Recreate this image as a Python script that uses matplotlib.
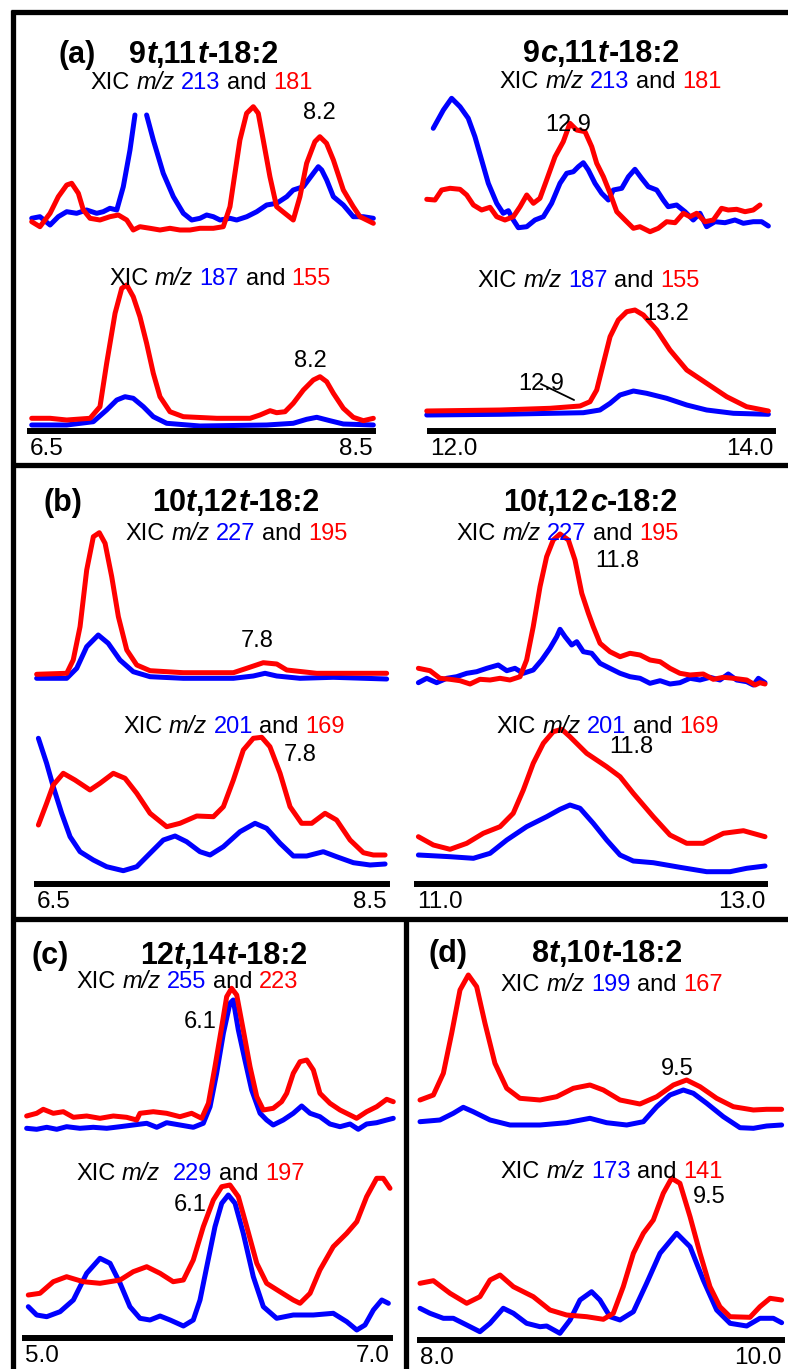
import numpy as np
import matplotlib.pyplot as plt

W, H = 788, 1369
BLUE = '#0000ff'
RED = '#ff0000'
plt.rcParams['font.family'] = ['Liberation Sans', 'DejaVu Sans']

# ---- (a) 9t,11t-18:2 : XIC m/z 213 (blue) / 181 (red), then 187 / 155
a1_top_blue_t = [6.51, 6.558, 6.617, 6.665, 6.714, 6.772, 6.83, 6.889, 6.927, 6.966, 7.006, 7.044, 7.083, 7.112, np.nan,
                 7.18, 7.219, 7.277, 7.336, 7.394, 7.443, 7.491, 7.53, 7.569, 7.608, 7.666, 7.705, 7.764, 7.822, 7.88,
                 7.938, 7.997, 8.035, 8.094, 8.152, 8.181, 8.201, 8.23, 8.269, 8.327, 8.385, 8.444, 8.502]
a1_top_blue_i = [21.7, 23.3, 15, 23.3, 28.3, 26.7, 30, 26.7, 28.3, 31.7, 30, 53.3, 90, 125, np.nan,
                 125, 100, 66.7, 43.3, 26.7, 20, 21.7, 25, 23.3, 20, 21.7, 20, 23.3, 28.3, 35,
                 36.7, 43.3, 50, 53.3, 66.7, 73.3, 70, 60, 43.3, 35, 23.3, 23.3, 21.7]
a1_top_red_t = [6.51, 6.558, 6.617, 6.665, 6.714, 6.743, 6.782, 6.811, 6.85, 6.908, 6.966, 7.015, 7.064, 7.102, 7.141,
                7.2, 7.258, 7.316, 7.374, 7.433, 7.491, 7.569, 7.627, 7.666, 7.695, 7.724, 7.763, 7.802, 7.831, 7.86,
                7.899, 7.938, 7.986, 8.035, 8.074, 8.113, 8.161, 8.19, 8.229, 8.269, 8.327, 8.385, 8.424, 8.463, 8.502]
a1_top_red_i = [18.3, 13.3, 26.7, 43.3, 55, 56.7, 46.7, 30, 21.7, 20, 23.3, 25, 20, 10, 13.3,
                11.7, 10, 11.7, 10, 10, 11.7, 11.7, 13.3, 33.3, 66.7, 100, 126.7, 133.3, 126.7, 100,
                63.3, 33.3, 26.7, 20, 43.3, 76.7, 98.3, 103.3, 96.7, 80, 50, 33.3, 23.3, 20, 16.7]
a1_bot_blue_t = [6.51, 6.714, 6.869, 6.947, 7.006, 7.054, 7.102, 7.161, 7.219, 7.297, 7.491, 7.88, 8.035, 8.113,
                 8.172, 8.249, 8.327, 8.502]
a1_bot_blue_i = [6, 6, 9.3, 21, 31, 34.3, 32.7, 24.3, 14.3, 7.7, 5, 6, 7.7, 11.7, 13.7, 10.3, 7, 6]
a1_bot_red_t = [6.51, 6.617, 6.714, 6.85, 6.908, 6.947, 6.996, 7.035, 7.064, 7.102, 7.141, 7.18, 7.219, 7.258,
                7.316, 7.394, 7.589, 7.783, 7.841, 7.9, 7.938, 7.987, 8.035, 8.094, 8.152, 8.191, 8.23, 8.269,
                8.327, 8.385, 8.444, 8.502]
a1_bot_red_i = [12.7, 12.7, 11, 12.7, 24.3, 67.7, 117.7, 142.7, 146, 134.3, 114.3, 87.7, 57.7, 34.3,
                19.3, 14.3, 12.7, 12.7, 16, 20.3, 18.3, 19.3, 27.7, 41, 51, 54.3, 49.3, 37.7,
                22.7, 13.7, 10.3, 12.7]

# ---- 9c,11t-18:2
a2_top_blue_t = [12.019, 12.078, 12.126, 12.175, 12.223, 12.262, 12.301, 12.34, 12.389, 12.427, 12.457, 12.486,
                 12.515, 12.564, 12.612, 12.661, 12.709, 12.758, 12.797, 12.836, 12.865, 12.894, 12.923, 12.962,
                 13.001, 13.04, 13.069, 13.118, 13.157, 13.195, 13.234, 13.273, 13.322, 13.36, 13.389, 13.438,
                 13.487, 13.535, 13.574, 13.613, 13.662, 13.72, 13.778, 13.827, 13.885, 13.934, 13.973]
a2_top_blue_i = [111.7, 130, 141.7, 133.3, 121.7, 103.3, 80, 56.7, 36.7, 26.7, 29.3, 20,
                 12.3, 13.3, 20, 23.3, 36.7, 56.7, 66.7, 68.3, 73.3, 77.3, 70, 56.7,
                 46.7, 40, 50, 51.7, 63.3, 70.7, 61.7, 53.3, 50, 40, 33.3, 35,
                 28.3, 20, 26.7, 13.3, 18.3, 17.3, 20, 16.7, 18.3, 18.3, 14]
a2_top_red_t = [11.981, 12.029, 12.068, 12.117, 12.175, 12.214, 12.253, 12.301, 12.35, 12.389, 12.437, 12.486,
                12.525, 12.564, 12.603, 12.641, 12.68, 12.729, 12.777, 12.816, 12.855, 12.904, 12.943, 12.972,
                13.011, 13.05, 13.089, 13.137, 13.186, 13.224, 13.283, 13.331, 13.38, 13.429, 13.477, 13.516,
                13.555, 13.603, 13.652, 13.7, 13.739, 13.788, 13.837, 13.885, 13.924]
a2_top_red_i = [40.7, 40, 50, 51.7, 50.7, 45, 35, 30, 32.7, 23.3, 20, 23.3,
                33.3, 45, 36.7, 41.7, 60, 83.3, 98.3, 116.7, 110, 108.3, 93.3, 76.7,
                63.3, 46.7, 28.3, 20, 11.7, 13.3, 8.3, 11.7, 18.3, 17.3, 26.7, 23.3,
                26.7, 18.3, 20, 31.7, 30, 30.7, 28.3, 30, 35]
a2_bot_blue_t = [11.981, 12.408, 12.894, 12.991, 13.05, 13.108, 13.186, 13.263, 13.38, 13.497, 13.613, 13.769, 13.973]
a2_bot_blue_i = [16, 16.7, 18.3, 21, 27.7, 36, 40, 37.7, 32.7, 26, 21, 17.7, 16.7]
a2_bot_red_t = [11.981, 12.408, 12.7, 12.875, 12.933, 12.972, 13.011, 13.05, 13.098, 13.147, 13.195, 13.244,
                13.322, 13.399, 13.497, 13.613, 13.73, 13.846, 13.973]
a2_bot_red_i = [20, 21, 22.7, 25, 29.3, 41, 67.7, 94.3, 111, 119.3, 121, 116,
                101, 81, 61, 47.7, 34.3, 24.3, 20]

# ---- (b) 10t,12t-18:2 : XIC m/z 227 / 195, then 201 / 169
b1_top_blue_t = [6.498, 6.67, 6.727, 6.784, 6.85, 6.907, 6.974, 7.05, 7.146, 7.336, 7.622, 7.736, 7.803, 7.87,
                 8.003, 8.193, 8.498]
b1_top_blue_i = [21.7, 21.7, 31.7, 53.3, 65, 56.7, 40, 28.3, 23.3, 21.7, 21.7, 24, 26.7, 24, 21.7, 22.7, 21]
b1_top_red_t = [6.498, 6.67, 6.707, 6.746, 6.784, 6.822, 6.856, 6.889, 6.927, 6.965, 7.013, 7.07, 7.146, 7.336,
                7.622, 7.698, 7.793, 7.87, 7.927, 8.098, 8.289, 8.498]
b1_top_red_i = [25.7, 26.7, 40, 73.3, 130, 163.3, 167.3, 156.7, 123.3, 83.3, 50, 35, 29.3, 27.3,
                27.3, 31.7, 37.3, 36, 30, 26.7, 26.7, 26.7]
b1_bot_blue_t = [6.508, 6.555, 6.593, 6.641, 6.689, 6.746, 6.822, 6.898, 6.993, 7.07, 7.146, 7.222, 7.289, 7.355,
                 7.431, 7.489, 7.565, 7.66, 7.746, 7.812, 7.889, 7.965, 8.041, 8.136, 8.212, 8.308, 8.403, 8.489]
b1_bot_blue_i = [145.7, 120.7, 97.3, 70.7, 47.3, 32.3, 24, 17.3, 13.3, 17.3, 30.7, 44, 48, 42.3,
                 32.3, 29, 37.3, 52.3, 60.7, 55.7, 40.7, 28, 28, 32.3, 27.3, 21.3, 19, 20]
b1_bot_red_t = [6.508, 6.555, 6.593, 6.65, 6.717, 6.803, 6.86, 6.936, 7.003, 7.07, 7.146, 7.241, 7.317, 7.413,
                7.508, 7.565, 7.622, 7.679, 7.736, 7.784, 7.831, 7.889, 7.946, 8.012, 8.07, 8.146, 8.212, 8.289,
                8.365, 8.422, 8.489]
b1_bot_red_i = [59, 80.7, 99, 110.7, 104, 94, 100.7, 110.7, 105.7, 90.7, 70.7, 57.3, 60.7, 68,
                67.3, 77.3, 104, 134, 145.7, 146.7, 137.3, 110.7, 77.3, 60.7, 60.7, 70.7, 64, 44,
                31.3, 29, 29]

# ---- 10t,12c-18:2
b2_top_blue_t = [11.008, 11.056, 11.113, 11.171, 11.228, 11.286, 11.343, 11.401, 11.467, 11.516, 11.563, 11.611,
                 11.668, 11.717, 11.764, 11.803, 11.822, 11.851, 11.889, 11.918, 11.956, 12.004, 12.052, 12.109,
                 12.167, 12.224, 12.282, 12.339, 12.397, 12.454, 12.511, 12.569, 12.626, 12.684, 12.741, 12.789,
                 12.837, 12.895, 12.933, 12.962, 13.0]
b2_top_blue_i = [17.3, 21.7, 17.3, 21.7, 23.3, 26.7, 28.3, 31.7, 35, 29.3, 31.7, 26.7,
                 30, 40, 51.7, 63.3, 70.7, 63.3, 55, 58.3, 48.3, 46.7, 36.7, 31.7,
                 26.7, 23.3, 21.7, 16.7, 19.3, 16, 17.3, 21.7, 20, 22.7, 20, 26,
                 20, 18.3, 15, 21.7, 17.3]
b2_top_red_t = [11.008, 11.075, 11.132, 11.19, 11.247, 11.305, 11.362, 11.42, 11.477, 11.534, 11.592, 11.63,
                11.668, 11.707, 11.745, 11.783, 11.822, 11.87, 11.908, 11.947, 11.985, 12.013, 12.052, 12.109,
                12.167, 12.224, 12.282, 12.339, 12.397, 12.454, 12.511, 12.569, 12.645, 12.703, 12.761, 12.818,
                12.895, 12.943, 12.971, 13.0]
b2_top_red_i = [31.7, 29.3, 21.7, 20.7, 19.3, 16, 20.7, 20, 21.7, 20, 23.3, 40,
                73.3, 113.3, 143.3, 160, 166, 160, 140, 106.7, 86.7, 73.3, 56.7, 48.3,
                43.3, 46.7, 45, 40, 38.3, 31.7, 26.7, 25, 26, 20.7, 22.7, 21.7,
                20, 15, 17.3, 16]
b2_bot_blue_t = [11.008, 11.19, 11.324, 11.42, 11.516, 11.63, 11.745, 11.822, 11.879, 11.937, 12.013, 12.09,
                 12.167, 12.243, 12.358, 12.511, 12.665, 12.799, 12.895, 13.0]
b2_bot_blue_i = [29, 27.3, 25.7, 30.7, 44, 57.3, 67.3, 74.7, 79, 75.7, 60.7, 44,
                 29, 23, 21.3, 16.7, 12.3, 12.3, 15.7, 18]
b2_bot_red_t = [11.008, 11.094, 11.19, 11.286, 11.381, 11.477, 11.553, 11.611, 11.668, 11.726, 11.783, 11.832,
                11.879, 11.975, 12.09, 12.167, 12.243, 12.358, 12.454, 12.55, 12.645, 12.761, 12.876, 13.0]
b2_bot_red_i = [47.3, 39, 34.7, 40.7, 50.7, 57.3, 70.7, 94, 120.7, 140.7, 152.3, 154.7,
                147.3, 130.7, 117.3, 107.3, 90.7, 67.3, 49, 40.7, 40.7, 50.7, 53.3, 47.3]

# ---- (c) 12t,14t-18:2 : XIC m/z 255 / 223, then 229 / 197
c_top_blue_t = [5.009, 5.064, 5.119, 5.174, 5.228, 5.301, 5.374, 5.448, 5.521, 5.593, 5.667, 5.722, 5.776, 5.849,
                5.922, 5.977, 6.014, 6.05, 6.087, 6.123, 6.141, 6.169, 6.205, 6.242, 6.288, 6.324, 6.36, 6.415,
                6.47, 6.516, 6.562, 6.616, 6.671, 6.726, 6.781, 6.826, 6.872, 6.927, 6.982, 7.018]
c_top_blue_i = [11.7, 10.7, 12.7, 10.7, 13.3, 11.7, 12.7, 11.7, 13.3, 15, 16.7, 12.7, 17.3, 15,
                12.7, 16.7, 33.3, 66.7, 106.7, 136.7, 140, 110, 80, 50, 26.7, 20, 15, 20,
                26.7, 34, 26.7, 23.3, 16, 13.3, 16, 10.7, 16, 17.3, 20, 21.7]
c_top_red_t = [5.009, 5.064, 5.1, 5.155, 5.21, 5.265, 5.338, 5.411, 5.484, 5.557, 5.612, 5.63, 5.703, 5.776,
               5.849, 5.913, 5.968, 6.005, 6.041, 6.078, 6.105, 6.132, 6.16, 6.196, 6.233, 6.27, 6.306, 6.36,
               6.406, 6.434, 6.47, 6.507, 6.544, 6.58, 6.616, 6.671, 6.726, 6.781, 6.817, 6.872, 6.927, 6.982, 7.018]
c_top_red_i = [24, 26.7, 30.7, 26.7, 28.3, 22.7, 24, 21.7, 24, 22.7, 20, 26.7, 28.3, 26.7,
               23.3, 26.7, 21.7, 36.7, 73.3, 113.3, 143.3, 151.7, 145, 110, 73.3, 43.3, 30, 31.7,
               38.3, 46.7, 66.7, 78.3, 80, 70, 46.7, 36.7, 30, 25, 21.7, 28.3, 33.3, 40.7, 38.3]
c_bot_blue_t = [5.018, 5.064, 5.119, 5.192, 5.265, 5.338, 5.411, 5.466, 5.521, 5.575, 5.63, 5.685, 5.74, 5.795,
                5.868, 5.922, 5.959, 5.996, 6.041, 6.078, 6.114, 6.151, 6.196, 6.251, 6.306, 6.379, 6.47, 6.58,
                6.689, 6.763, 6.818, 6.863, 6.909, 6.955, 6.991]
c_bot_blue_i = [31.3, 23, 21.3, 26.3, 38, 64.7, 79.7, 74.7, 54.7, 31.3, 19.7, 18, 22, 18,
                12, 18, 38, 71.3, 111.3, 134.7, 143, 134.7, 104.7, 61.3, 31.3, 19.7, 23, 23,
                24.7, 16.3, 8, 13, 28, 38, 34.7]
c_bot_red_t = [5.018, 5.082, 5.155, 5.228, 5.319, 5.411, 5.521, 5.593, 5.667, 5.74, 5.812, 5.868, 5.922, 5.977,
               6.032, 6.078, 6.123, 6.169, 6.215, 6.27, 6.324, 6.397, 6.47, 6.507, 6.562, 6.616, 6.689, 6.763,
               6.818, 6.872, 6.927, 6.963, 7.0]
c_bot_red_i = [43, 44.7, 56.3, 61.3, 56.3, 54.7, 58, 66.3, 71.3, 64.7, 56.3, 58, 78, 111.3,
               138, 151.3, 153, 141.3, 111.3, 74.7, 54.7, 46.3, 38, 34.7, 44.7, 68, 91.3, 104.7,
               116.3, 141.3, 159.7, 159.7, 149.7]

# ---- (d) 8t,10t-18:2 : XIC m/z 199 / 167, then 173 / 141
d_top_blue_t = [8.0, 8.11, 8.184, 8.239, 8.294, 8.387, 8.497, 8.663, 8.81, 8.939, 9.031, 9.142, 9.234, 9.308,
                9.381, 9.455, 9.51, 9.584, 9.676, 9.768, 9.842, 9.915, 9.998]
d_top_blue_i = [18.3, 20, 26.7, 32.7, 28.3, 20, 15, 15, 17.3, 21.7, 17.3, 15, 18.3, 33.3,
                45, 50, 46.7, 36.7, 23.3, 12.3, 11.7, 14, 15]
d_top_red_t = [8.0, 8.074, 8.129, 8.175, 8.221, 8.267, 8.313, 8.359, 8.414, 8.479, 8.552, 8.663, 8.755, 8.847,
               8.939, 9.013, 9.105, 9.215, 9.308, 9.4, 9.473, 9.547, 9.639, 9.731, 9.842, 9.915, 9.998]
d_top_red_i = [40, 45, 66.7, 106.7, 150, 165, 153.3, 116.7, 76.7, 51.7, 41.7, 40, 43.3, 51.7,
               55, 50, 40, 36, 43.3, 55, 60, 53.3, 41.7, 33.3, 30, 30.7, 30.7]
d_bot_blue_t = [8.0, 8.055, 8.129, 8.184, 8.258, 8.331, 8.387, 8.46, 8.516, 8.589, 8.663, 8.7, 8.773, 8.829,
                8.884, 8.948, 8.994, 9.05, 9.105, 9.179, 9.252, 9.326, 9.418, 9.492, 9.565, 9.639, 9.713, 9.805,
                9.878, 9.952, 9.998]
d_bot_blue_i = [31.7, 26.7, 21.7, 21.7, 15, 8.3, 16.7, 31.7, 26.7, 16.7, 13.3, 14, 6.7, 20,
                40, 48.3, 40, 23.3, 20, 28.3, 56.7, 86.7, 106.7, 93.3, 60, 30, 16.7, 14,
                21.7, 21.7, 17.3]
d_bot_red_t = [8.0, 8.074, 8.166, 8.258, 8.331, 8.387, 8.442, 8.516, 8.626, 8.718, 8.81, 8.921, 9.013, 9.068,
               9.123, 9.179, 9.234, 9.289, 9.344, 9.39, 9.436, 9.492, 9.547, 9.602, 9.657, 9.713, 9.823, 9.878,
               9.934, 9.998]
d_bot_red_i = [56.7, 59.3, 46.7, 36.7, 43.3, 60, 65, 53.3, 43.3, 30, 25, 23.3, 20.7, 26.7,
               53.3, 86.7, 106.7, 120, 146.7, 161.7, 156.7, 123.3, 86.7, 53.3, 33.3, 23.3, 22.7, 33.3,
               41.7, 40]

fig = plt.figure(figsize=(W / 100, H / 100), dpi=100)
bg = fig.add_axes([0, 0, 1, 1])
bg.set_xlim(0, W)
bg.set_ylim(H, 0)
bg.axis('off')
bg.set_zorder(10)
bg.patch.set_visible(False)

# panel frame
frame_kw = dict(color='black', lw=3.8, solid_capstyle='butt')
bg.plot([11, W], [12, 12], **frame_kw)
bg.plot([13, 13], [10, H], **frame_kw)
bg.plot([11, W], [465, 465], **frame_kw)
bg.plot([11, W], [919, 919], **frame_kw)
bg.plot([406, 406], [917, H], **frame_kw)


def px_axes(x0, x1, y_bottom, height):
    return fig.add_axes([x0 / W, 1 - y_bottom / H, (x1 - x0) / W, height / H])


def trace(ax, t, i, color):
    ax.plot(t, i, color=color, lw=3.6, clip_on=False,
            solid_joinstyle='round', solid_capstyle='round')


def pair(x0, x1, xlim, top_base, bot_base, top, bot):
    up = px_axes(x0, x1, top_base, 200)
    lo = px_axes(x0, x1, bot_base, 200)
    for ax in (up, lo):
        ax.set_xlim(*xlim)
        ax.set_ylim(0, 200)
        ax.patch.set_visible(False)
        for s in ax.spines.values():
            s.set_visible(False)
        ax.set_yticks([])
    up.set_xticks([])
    trace(up, top[0], top[1], BLUE)
    trace(up, top[2], top[3], RED)
    trace(lo, bot[0], bot[1], BLUE)
    trace(lo, bot[2], bot[3], RED)
    lo.spines['bottom'].set_visible(True)
    lo.spines['bottom'].set_linewidth(4.3)
    lo.set_xticks(list(xlim))
    labs = lo.set_xticklabels([f'{v:.1f}' for v in xlim], fontsize=17.5)
    labs[0].set_ha('left')
    labs[1].set_ha('right')
    lo.tick_params(axis='x', length=0, pad=5)
    return up, lo


pair(30, 373, (6.5, 8.5), 240, 431,
     (a1_top_blue_t, a1_top_blue_i, a1_top_red_t, a1_top_red_i),
     (a1_bot_blue_t, a1_bot_blue_i, a1_bot_red_t, a1_bot_red_i))
_, a2_lo = pair(430, 773, (12.0, 14.0), 240, 431,
                (a2_top_blue_t, a2_top_blue_i, a2_top_red_t, a2_top_red_i),
                (a2_bot_blue_t, a2_bot_blue_i, a2_bot_red_t, a2_bot_red_i))
pair(37, 387, (6.5, 8.5), 700, 884,
     (b1_top_blue_t, b1_top_blue_i, b1_top_red_t, b1_top_red_i),
     (b1_bot_blue_t, b1_bot_blue_i, b1_bot_red_t, b1_bot_red_i))
pair(417, 765, (11.0, 13.0), 700, 884,
     (b2_top_blue_t, b2_top_blue_i, b2_top_red_t, b2_top_red_i),
     (b2_bot_blue_t, b2_bot_blue_i, b2_bot_red_t, b2_bot_red_i))
pair(25, 390, (5.0, 7.0), 1140, 1338,
     (c_top_blue_t, c_top_blue_i, c_top_red_t, c_top_red_i),
     (c_bot_blue_t, c_bot_blue_i, c_bot_red_t, c_bot_red_i))
pair(420, 782, (8.0, 10.0), 1140, 1340,
     (d_top_blue_t, d_top_blue_i, d_top_red_t, d_top_red_i),
     (d_bot_blue_t, d_bot_blue_i, d_bot_red_t, d_bot_red_i))

# leader line for the 12.9 label
a2_lo.annotate('12.9', xy=(12.84, 31), xytext=(12.513, 41), fontsize=17, zorder=5,
               arrowprops=dict(arrowstyle='-', lw=1.3, color='black',
                               patchA=None, shrinkA=0, shrinkB=0))

chains = []


def rich(x_left, x_right, base, parts, size):
    s, c, st, wt, sp = parts[0]
    first = bg.text(x_left, base, s, color=c, style=st, fontweight=wt,
                    fontsize=size, va='baseline', ha='left')
    texts = [first]
    prev = first
    for s, c, st, wt, sp in parts[1:]:
        prev = bg.annotate(s, xy=(1, 0), xycoords=prev, xytext=(sp * 0.278 * size, 0),
                           textcoords='offset points', va='bottom', ha='left',
                           color=c, style=st, fontweight=wt, fontsize=size)
        texts.append(prev)
    chains.append((first, texts, x_left, x_right, base))


def title(x_left, x_right, base, pieces):
    parts = [(p, 'black', 'italic' if p == 't' or p == 'c' else 'normal', 'bold', 0)
             for p in pieces]
    rich(x_left, x_right, base, parts, 22)


def xic(x_left, x_right, base, mz_blue, mz_red, gap=1):
    rich(x_left, x_right, base,
         [('XIC', 'black', 'normal', 'normal', 0),
          ('m/z', 'black', 'italic', 'normal', 1),
          (mz_blue, BLUE, 'normal', 'normal', gap),
          ('and', 'black', 'normal', 'normal', 1),
          (mz_red, RED, 'normal', 'normal', 1)], 17)


def peak(x_left, x_right, base, label):
    rich(x_left, x_right, base, [(label, 'black', 'normal', 'normal', 0)], 17)


def letter(x_left, x_right, base, label):
    rich(x_left, x_right, base, [(label, 'black', 'normal', 'bold', 0)], 22)


# (a)
letter(57, 97, 63, '(a)')
title(123, 285, 63, ['9', 't', ',11', 't', '-18:2'])
xic(78, 325, 89, '213', '181')
peak(302, 337, 119, '8.2')
xic(97, 343, 285, '187', '155')
peak(293, 328, 367, '8.2')
title(518, 685, 62, ['9', 'c', ',11', 't', '-18:2'])
xic(488, 733, 88, '213', '181')
peak(543, 593, 131, '12.9')
xic(465, 712, 287, '187', '155')
peak(643, 690, 320, '13.2')
# (b)
letter(43, 83, 511, '(b)')
title(147, 325, 511, ['10', 't', ',12', 't', '-18:2'])
xic(113, 360, 540, '227', '195')
peak(240, 275, 647, '7.8')
xic(110, 358, 733, '201', '169')
peak(283, 318, 761, '7.8')
title(498, 683, 511, ['10', 't', ',12', 'c', '-18:2'])
xic(443, 692, 540, '227', '195')
peak(593, 642, 567, '11.8')
xic(483, 732, 733, '201', '169')
peak(607, 655, 753, '11.8')
# (c)
letter(30, 70, 964, '(c)')
title(135, 313, 964, ['12', 't', ',14', 't', '-18:2'])
xic(63, 312, 988, '255', '223')
peak(183, 218, 1028, '6.1')
xic(63, 318, 1180, '229', '197', gap=2)
peak(173, 207, 1211, '6.1')
# (d)
letter(428, 468, 962, '(d)')
title(527, 688, 962, ['8', 't', ',10', 't', '-18:2'])
xic(488, 735, 991, '199', '167')
peak(660, 695, 1075, '9.5')
xic(488, 735, 1178, '173', '141')
peak(692, 727, 1203, '9.5')

# centre each text group on the span it covers in the reference
r = fig.canvas.get_renderer()
for first, texts, xl, xr, base in chains:
    boxes = [t.get_window_extent(r) for t in texts]
    w = max(b.x1 for b in boxes) - min(b.x0 for b in boxes)
    first.set_position(((xl + xr) / 2 - w / 2, base))

fig.savefig('out.png', dpi=100)
